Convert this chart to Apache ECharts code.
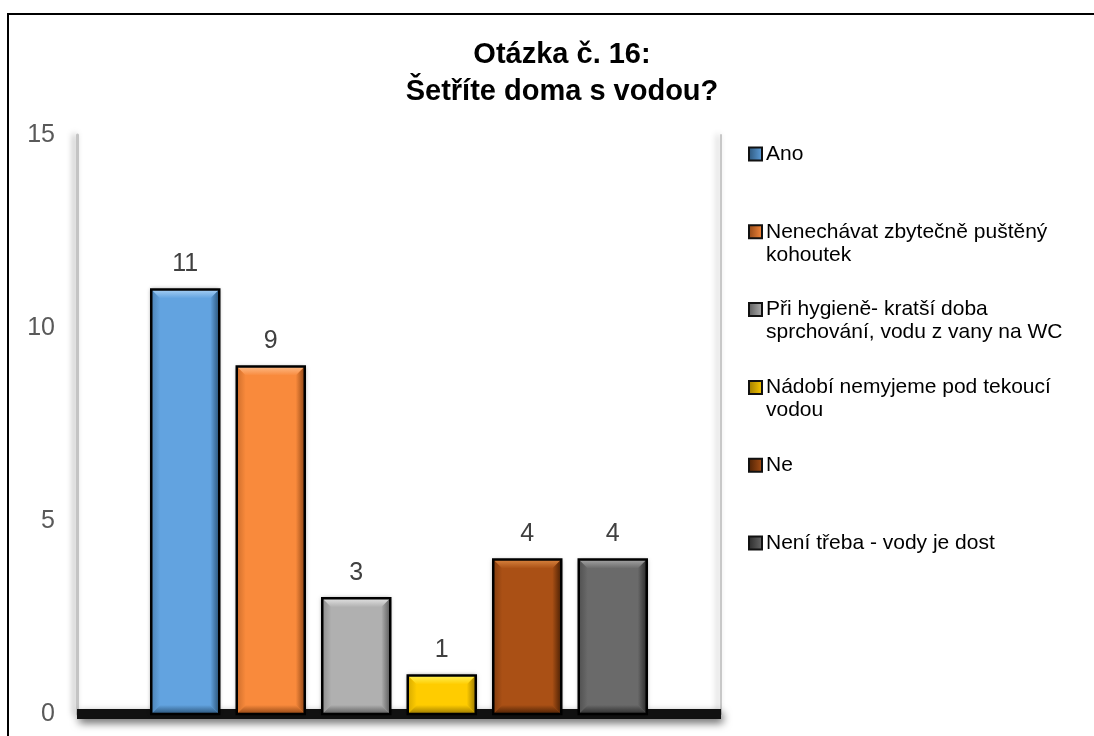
<!DOCTYPE html>
<html>
<head>
<meta charset="utf-8">
<script src="https://cdn.jsdelivr.net/npm/echarts@6/dist/echarts.min.js"></script>
<style>
html,body{margin:0;padding:0;background:#fff;}
#chart{width:1094px;height:736px;}
</style>
</head>
<body>
<div id="chart"></div>
<script>
var titleLines = ['Otázka č. 16:', 'Šetříte doma s vodou?'];
var seriesNames = [
  'Ano',
  'Nenechávat zbytečně puštěný kohoutek',
  'Při hygieně- kratší doba sprchování, vodu z vany na WC',
  'Nádobí nemyjeme pod tekoucí vodou',
  'Ne',
  'Není třeba - vody je dost'
];
var legendLines = [
  ['Ano'],
  ['Nenechávat zbytečně puštěný', 'kohoutek'],
  ['Při hygieně- kratší doba', 'sprchování, vodu z vany na WC'],
  ['Nádobí nemyjeme pod tekoucí', 'vodou'],
  ['Ne'],
  ['Není třeba - vody je dost']
];
var seriesValues = [11, 9, 3, 1, 4, 4];
var baseColors = ['#62a3e0', '#f98a3c', '#b0b0b0', '#ffcc00', '#aa5015', '#6a6a6a'];
var darkColors = ['#2a5378', '#8f4514', '#5a5a5a', '#9a7800', '#4a2004', '#2a2a2a'];
var lightColors = ['#a8d0f4', '#fdbb88', '#e4e4e4', '#fff35a', '#d9843f', '#a4a4a4'];
var yTicks = [0, 5, 10, 15];

var FONT = 'Liberation Sans, Arial, sans-serif';
var BAR_W = 68;
var PITCH = 85.5;
var BEVEL = 9;

function vgrad(c1, c2) {
  return new echarts.graphic.LinearGradient(0, 0, 0, 1, [{offset: 0, color: c1}, {offset: 1, color: c2}]);
}
function hgrad(c1, c2) {
  return new echarts.graphic.LinearGradient(0, 0, 1, 0, [{offset: 0, color: c1}, {offset: 1, color: c2}]);
}

function makeRender(i) {
  return function (params, api) {
    var v = api.value(1);
    var top = api.coord([api.value(0), v]);
    var base = api.coord([api.value(0), 0]);
    var cx = top[0] + (i - (seriesNames.length - 1) / 2) * PITCH;
    var x0 = cx - BAR_W / 2, x1 = cx + BAR_W / 2;
    var y0 = top[1], y1 = base[1];
    var b = Math.min(BEVEL, (y1 - y0) / 2 - 1);
    return {
      type: 'group',
      children: [
        {type: 'rect', shape: {x: x0, y: y0, width: BAR_W, height: y1 - y0},
          style: {fill: baseColors[i], shadowBlur: 4, shadowColor: 'rgba(0,0,0,0.45)'}},
        {type: 'polygon', shape: {points: [[x0, y0], [x1, y0], [x1 - b, y0 + b], [x0 + b, y0 + b]]},
          style: {fill: vgrad(lightColors[i], baseColors[i])}},
        {type: 'polygon', shape: {points: [[x1, y0], [x1, y1], [x1 - b, y1 - b], [x1 - b, y0 + b]]},
          style: {fill: hgrad(baseColors[i], darkColors[i])}},
        {type: 'polygon', shape: {points: [[x0, y1], [x1, y1], [x1 - b, y1 - b], [x0 + b, y1 - b]]},
          style: {fill: vgrad(baseColors[i], darkColors[i])}},
        {type: 'polygon', shape: {points: [[x0, y0], [x0, y1], [x0 + b, y1 - b], [x0 + b, y0 + b]]},
          style: {fill: hgrad(darkColors[i], baseColors[i]), opacity: 0.4}},
        {type: 'rect', shape: {x: x0, y: y0, width: BAR_W, height: y1 - y0},
          style: {fill: 'none', stroke: '#000', lineWidth: 2.5}},
        {type: 'text', x: cx, y: y0 - 13,
          style: {text: String(v), fill: '#404040', font: '25px ' + FONT, align: 'center', verticalAlign: 'bottom'}}
      ]
    };
  };
}

var series = seriesNames.map(function (n, i) {
  return {
    name: n,
    type: 'custom',
    renderItem: makeRender(i),
    encode: {x: 0, y: 1},
    data: [[0, seriesValues[i]]],
    itemStyle: {
      color: hgrad(darkColors[i], baseColors[i]),
      borderColor: '#111',
      borderWidth: 2
    },
    z: 3
  };
});

var legends = seriesNames.map(function (n, i) {
  var lines = legendLines[i];
  var center = 155 + i * 77.8;
  var two = lines.length > 1;
  return {
    data: [n],
    left: 748,
    top: two ? center - 11.5 - 23 : center - 11.5,
    orient: 'vertical',
    icon: 'rect',
    itemWidth: 13,
    itemHeight: 13,
    itemGap: 0,
    padding: 0,
    selectedMode: false,
    formatter: function () {
      if (two) {
        return '{s| }\n{t|' + lines[0] + '}\n{t|' + lines[1] + '}';
      }
      return '{t|' + lines[0] + '}';
    },
    textStyle: {
      fontFamily: FONT,
      fontSize: 21,
      color: '#000',
      padding: [0, 0, 0, -1],
      rich: {
        s: {fontSize: 21, lineHeight: 23},
        t: {fontSize: 21, lineHeight: 23, color: '#000', fontFamily: FONT}
      }
    }
  };
});

var chart = echarts.init(document.getElementById('chart'), null, {renderer: 'canvas'});
chart.setOption({
  backgroundColor: '#fff',
  animation: false,
  title: {
    text: titleLines.join('\n'),
    left: 557,
    top: 31,
    textAlign: 'center',
    textStyle: {
      fontFamily: FONT,
      fontSize: 29,
      fontWeight: 'bold',
      color: '#000',
      lineHeight: 37
    }
  },
  legend: legends,
  grid: {left: 77, right: 373, top: 135, bottom: 22, containLabel: false},
  xAxis: {
    type: 'category',
    data: [''],
    offset: 5,
    axisTick: {show: false},
    axisLabel: {show: false},
    axisLine: {
      show: true,
      lineStyle: {color: '#111', width: 10, cap: 'butt', shadowBlur: 8, shadowColor: 'rgba(0,0,0,0.6)', shadowOffsetY: 4, shadowOffsetX: 2}
    }
  },
  yAxis: [{
    type: 'value',
    min: yTicks[0],
    max: yTicks[yTicks.length - 1],
    interval: 5,
    splitLine: {show: false},
    axisTick: {show: false},
    axisLine: {
      show: true,
      lineStyle: {color: '#c4c4c4', width: 3, shadowBlur: 6, shadowColor: 'rgba(0,0,0,0.35)', shadowOffsetX: -3}
    },
    axisLabel: {
      margin: 22,
      fontFamily: FONT,
      fontSize: 25,
      color: '#595959'
    }
  }, {
    type: 'value',
    position: 'right',
    min: yTicks[0],
    max: yTicks[yTicks.length - 1],
    interval: 5,
    splitLine: {show: false},
    axisTick: {show: false},
    axisLabel: {show: false},
    axisLine: {
      show: true,
      lineStyle: {color: '#c8c8c8', width: 2, shadowBlur: 6, shadowColor: 'rgba(0,0,0,0.3)', shadowOffsetX: -3}
    }
  }],
  graphic: [{
    type: 'rect',
    shape: {x: 8, y: 14, width: 1100, height: 760},
    style: {fill: 'none', stroke: '#000', lineWidth: 2},
    silent: true,
    z: 100
  }],
  series: series
});
</script>
</body>
</html>
